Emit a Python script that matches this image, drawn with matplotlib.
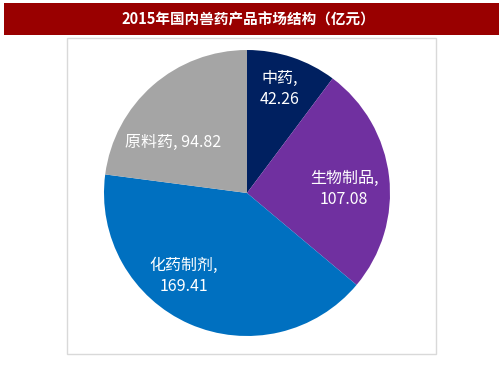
import matplotlib
matplotlib.use("Agg")
import matplotlib.pyplot as plt
from matplotlib.patches import Rectangle

plt.rcParams['font.family'] = ['Noto Sans CJK SC', 'DejaVu Sans']

# 数据
categories = ['中药', '生物制品', '化药制剂', '原料药']
values = [42.26, 107.08, 169.41, 94.82]
colors = ['#002060', '#7030A0', '#0070C0', '#A5A5A5']
title = '2015年国内兽药产品市场结构（亿元）'

# label text layout (two lines or one) and position in pie units
label_text = ['中药,\n42.26', '生物制品,\n107.08', '化药制剂,\n169.41', '原料药, 94.82']
label_pos = [(0.23, 0.73), (0.68, 0.03), (-0.44, -0.58), (-0.52, 0.35)]

W, H = 503, 378
fig = plt.figure(figsize=(W / 100, H / 100), dpi=100)

# 标题栏
bg = fig.add_axes([0, 0, 1, 1])
bg.set_xlim(0, W)
bg.set_ylim(H, 0)
bg.axis('off')
bg.add_patch(Rectangle((4, 3), 495, 32, facecolor='#990000', edgecolor='none'))
bg.text(248, 19, title, color='white', fontsize=10.5, fontweight='bold',
        ha='center', va='center')
# 外框
bg.add_patch(Rectangle((67, 38), 369, 316, facecolor='white', edgecolor='#d9d9d9', lw=1))

# 饼图
cx, cy, r = 247, 193, 143
ax = fig.add_axes([(cx - r) / W, (H - cy - r) / H, 2 * r / W, 2 * r / H])
ax.pie(values, colors=colors, startangle=90, counterclock=False,
       wedgeprops=dict(linewidth=0))
ax.set_xlim(-1, 1)
ax.set_ylim(-1, 1)
ax.set_aspect('equal')

for txt, (x, y) in zip(label_text, label_pos):
    ax.text(x, y, txt, color='white', fontsize=11.5, ha='center', va='center',
            linespacing=1.3)

fig.savefig('out.png', dpi=100)
